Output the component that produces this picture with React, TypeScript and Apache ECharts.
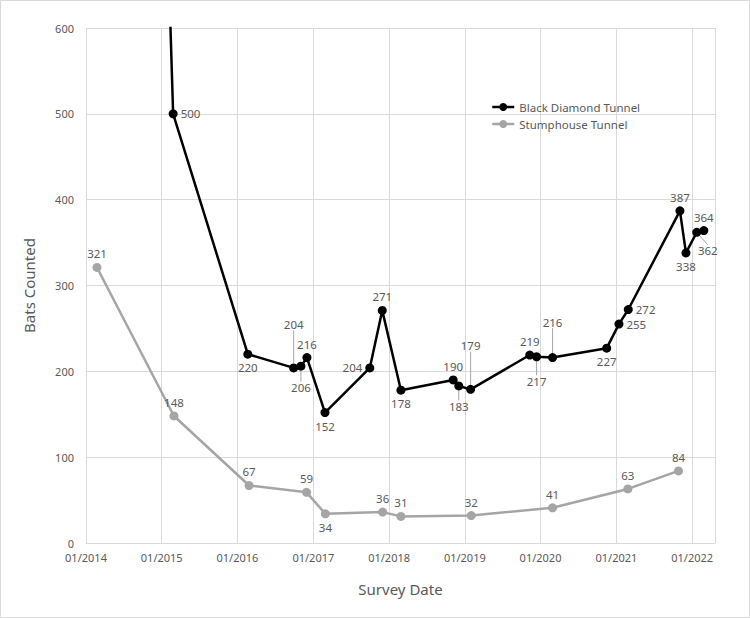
import React, { useEffect, useRef } from "react";
import * as echarts from "echarts";

// Black Diamond Tunnel survey dates and counts (first point lies above the 600 axis max)
const bdDates = [
  "2015-01-05", "2015-02-25", "2016-02-20", "2016-09-28", "2016-11-02", "2016-12-01",
  "2017-02-26", "2017-09-30", "2017-11-29", "2018-02-27", "2018-11-06", "2018-12-03",
  "2019-01-29", "2019-11-10", "2019-12-13", "2020-02-28", "2020-11-15", "2021-01-13",
  "2021-02-27", "2021-11-03", "2021-12-02", "2022-01-23", "2022-02-26",
];
const bdCounts = [
  900, 500, 220, 204, 206, 216, 152, 204, 271, 178, 190, 183, 179, 219, 217, 216, 227, 255,
  272, 387, 338, 362, 364,
];

// Stumphouse Tunnel survey dates and counts
const shDates = [
  "2014-02-23", "2015-03-01", "2016-02-26", "2016-11-29", "2017-02-28", "2017-12-01",
  "2018-02-27", "2019-02-01", "2020-02-28", "2021-02-25", "2021-10-27",
];
const shCounts = [321, 148, 67, 59, 34, 36, 31, 32, 41, 63, 84];

const seriesNames = ["Black Diamond Tunnel", "Stumphouse Tunnel"];

// label styling (positions of the value labels)
const bdLabelPos = [
  "none", "right", "bottom", "top", "bottom", "top", "bottom", "left", "top", "bottom",
  "top", "bottom", "top", "top", "bottom", "top", "bottom", "right", "right", "top",
  "bottom", "bottom", "top",
];
const shLabelPos = ["top", "top", "top", "top", "bottom", "top", "top", "top", "top", "top", "top"];
// labels moved away with a guide line: index -> [dx, dy]
const bdLeader: Record<number, [number, number]> = {
  3: [0, -30],
  4: [0, 8],
  11: [0, 7],
  12: [0, -30],
  14: [0, 11],
  15: [0, -22],
  21: [11, 5],
};
const bdOffsets: Record<number, [number, number]> = {
  1: [0, -7],
  7: [3, -10],
  17: [0, 10],
  18: [3, 7],
  22: [3, 0],
};

const FONT = "Noto Sans";
const TXT = "#595959";
const GRID = "#D9D9D9";
const DAY = 24 * 3600 * 1000;

export default function App() {
  const ref = useRef<HTMLDivElement>(null);
  useEffect(() => {
    if (!ref.current) return;
    const chart = echarts.init(ref.current, undefined, { renderer: "svg" });

    const bdData = bdDates.map((d, i) => {
      const pos = bdLabelPos[i];
      const item: any = {
        value: [d, bdCounts[i]],
        label: pos === "none" ? { show: false } : { position: pos, offset: bdOffsets[i] || [0, 0] },
      };
      if (bdLeader[i]) {
        item.labelLine = { show: true, lineStyle: { color: "#A6A6A6", width: 1 } };
      }
      return item;
    });
    const shData = shDates.map((d, i) => ({
      value: [d, shCounts[i]],
      label: { position: shLabelPos[i] },
    }));

    const option: any = {
      animation: false,
      backgroundColor: "#ffffff",
      textStyle: { fontFamily: FONT },
      grid: { left: 86, right: 35, top: 28, bottom: 75, containLabel: false },
      legend: {
        orient: "vertical",
        left: 486,
        top: 96,
        itemWidth: 22,
        itemHeight: 10,
        itemGap: 5,
        data: seriesNames,
        lineStyle: { width: 2.5 },
        textStyle: { fontFamily: FONT, fontSize: 11.5, color: TXT },
      },
      xAxis: {
        type: "time",
        min: "2014-01-01",
        max: "2022-04-21",
        minInterval: 360 * DAY,
        maxInterval: 370 * DAY,
        name: "Survey Date",
        nameLocation: "middle",
        nameGap: 38,
        nameTextStyle: { fontFamily: FONT, fontSize: 15, color: TXT },
        axisLine: { show: true, lineStyle: { color: GRID, width: 1 } },
        axisTick: { show: false },
        axisLabel: {
          formatter: "{MM}/{yyyy}",
          color: TXT,
          fontSize: 11,
          fontFamily: FONT,
          margin: 9,
          hideOverlap: false,
        },
        splitLine: { show: true, lineStyle: { color: GRID, width: 1 } },
      },
      yAxis: {
        type: "value",
        min: 0,
        max: 600,
        interval: 100,
        name: "Bats Counted",
        nameLocation: "middle",
        nameGap: 50,
        nameTextStyle: { fontFamily: FONT, fontSize: 15, color: TXT },
        axisLine: { show: false },
        axisTick: { show: false },
        axisLabel: { color: TXT, fontSize: 11, fontFamily: FONT, margin: 12 },
        splitLine: { show: true, lineStyle: { color: GRID, width: 1 } },
      },
      series: [
        {
          name: seriesNames[0],
          type: "line",
          data: bdData,
          symbol: "circle",
          symbolSize: 9,
          clip: true,
          lineStyle: { color: "#000000", width: 2.5 },
          itemStyle: { color: "#000000" },
          label: { show: true, fontSize: 11.5, fontFamily: FONT, color: TXT, distance: 3 },
          labelLayout: (p: any) => {
            const l = bdLeader[p.dataIndex];
            return l ? { dx: l[0], dy: l[1] } : {};
          },
          z: 3,
        },
        {
          name: seriesNames[1],
          type: "line",
          data: shData,
          symbol: "circle",
          symbolSize: 9,
          lineStyle: { color: "#A5A5A5", width: 2.5 },
          itemStyle: { color: "#A5A5A5" },
          label: { show: true, fontSize: 11.5, fontFamily: FONT, color: TXT, distance: 3 },
          z: 2,
        },
      ],
      graphic: [
        {
          type: "rect",
          shape: { x: 0.5, y: 0.5, width: 749, height: 617 },
          style: { fill: "none", stroke: GRID, lineWidth: 1 },
          silent: true,
        },
      ],
    };
    chart.setOption(option);
    return () => chart.dispose();
  }, []);
  return (
    <div
      ref={ref}
      style={{ position: "fixed", left: 0, top: 0, width: 750, height: 618 }}
    />
  );
}
